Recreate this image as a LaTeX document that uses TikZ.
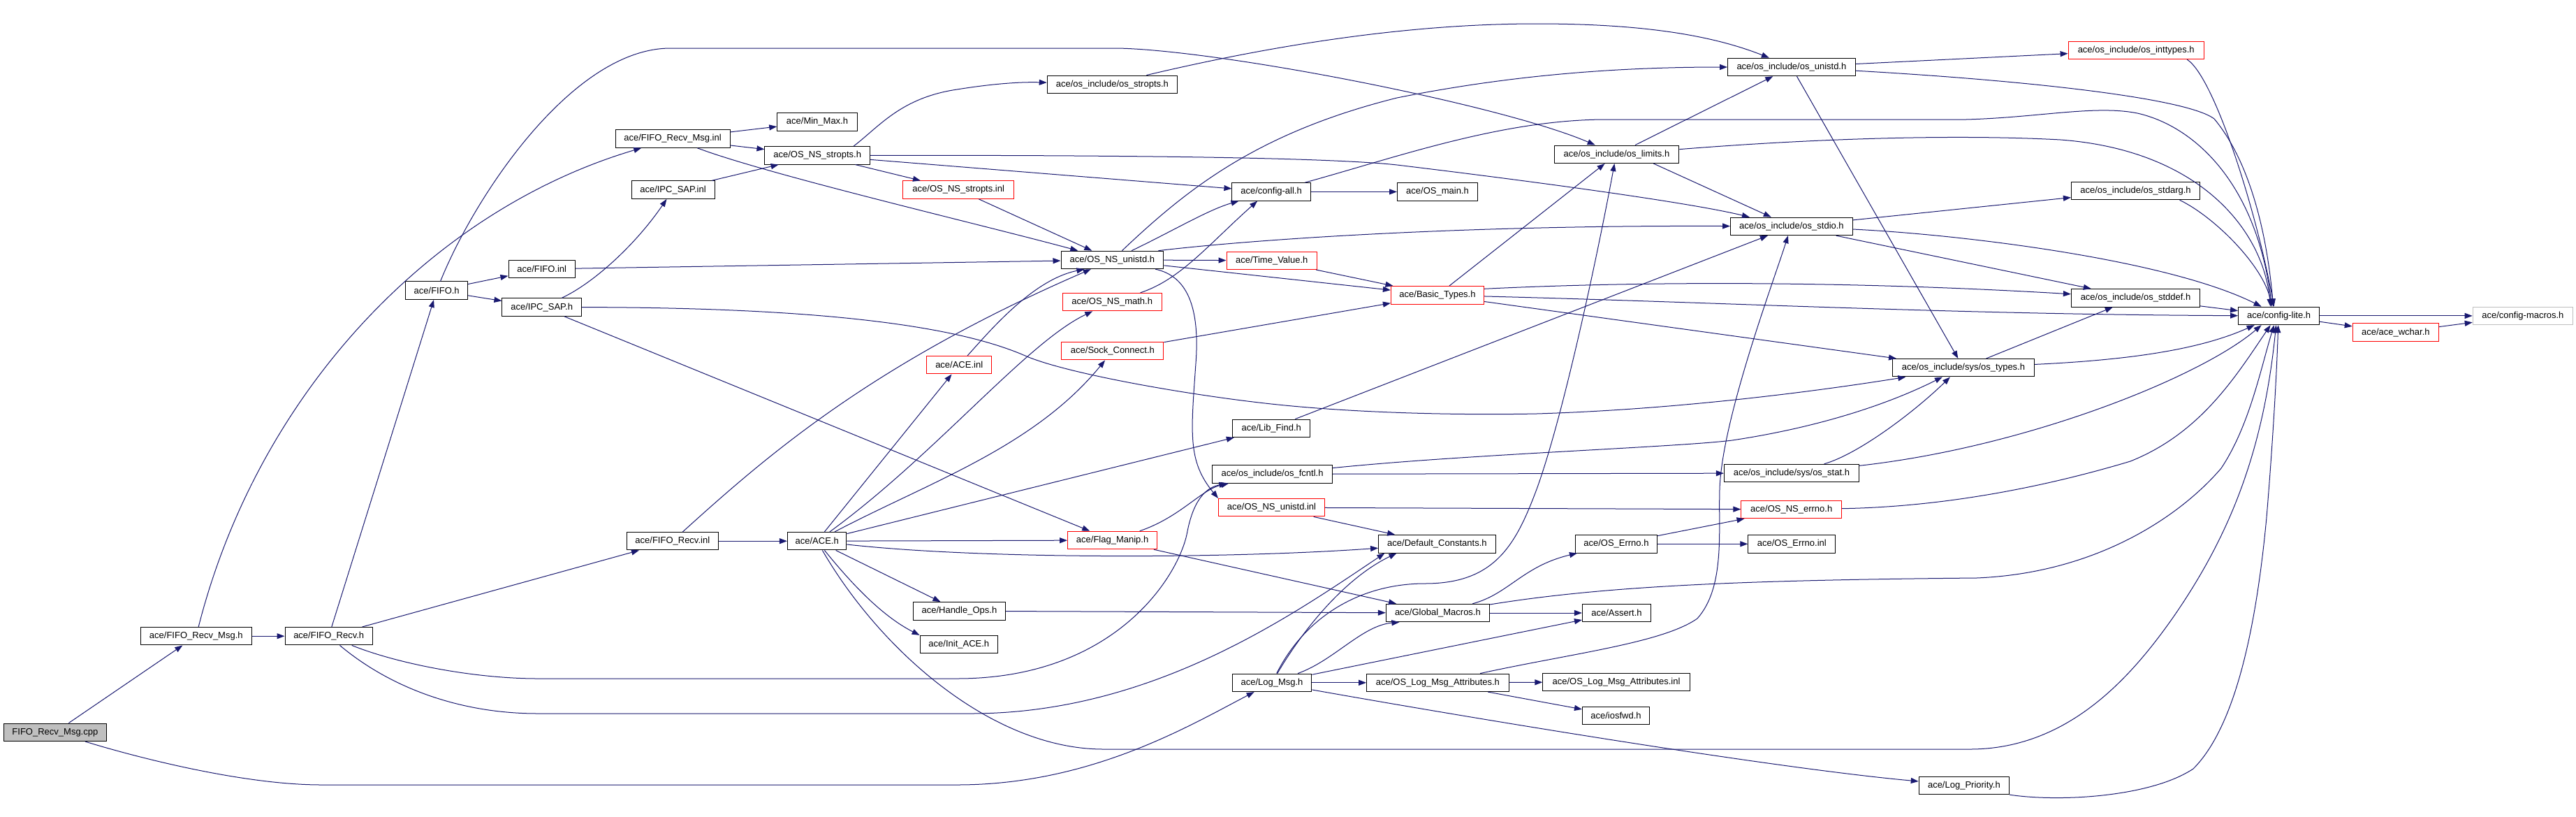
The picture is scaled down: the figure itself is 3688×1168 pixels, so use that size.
\documentclass[tikz,border=0pt]{standalone}
\usepackage{fontspec}
\setmainfont{Liberation Sans}
\usetikzlibrary{arrows.meta}
\definecolor{edgeblue}{HTML}{191970}
\definecolor{nodered}{HTML}{FF0000}
\definecolor{lightgr}{HTML}{BFBFBF}
\tikzset{
  nd/.style={draw=black, line width=1pt, rectangle, inner sep=0pt, minimum height=25.5pt, font=\fontsize{13}{15}\selectfont, text=black},
  rd/.style={nd, draw=nodered},
  gd/.style={nd, draw=lightgr},
  ed/.style={draw=edgeblue, line width=1pt, -{Triangle[length=11pt,width=8pt]}},
}
\begin{document}
\begin{tikzpicture}[x=1pt,y=-1pt]
\fill[white] (0,0) rectangle (3688,1168);
\useasboundingbox (0,0) rectangle (3688,1168);
% nodes
\node[nd, fill=lightgr, minimum width=146.7pt] (cpp) at (78.9,1047.8) {FIFO\_Recv\_Msg.cpp};
\node[nd, minimum width=158.9pt] (frmh) at (280.8,910.2) {ace/FIFO\_Recv\_Msg.h};
\node[nd, minimum width=125.4pt] (frh) at (470.7,910.2) {ace/FIFO\_Recv.h};
\node[nd, minimum width=88.8pt] (fifoh) at (625.2,415.7) {ace/FIFO.h};
\node[nd, minimum width=164pt] (frminl) at (963,198.5) {ace/FIFO\_Recv\_Msg.inl};
\node[nd, minimum width=114.5pt] (minmax) at (1170,174.4) {ace/Min\_Max.h};
\node[nd, minimum width=150.5pt] (nsstropts) at (1170.2,222.3) {ace/OS\_NS\_stropts.h};
\node[nd, minimum width=119pt] (ipcinl) at (963.5,271.6) {ace/IPC\_SAP.inl};
\node[nd, minimum width=95.4pt] (fifoinl) at (775.7,384.9) {ace/FIFO.inl};
\node[nd, minimum width=113.5pt] (ipch) at (775.7,439.6) {ace/IPC\_SAP.h};
\node[nd, minimum width=130.8pt] (frinl) at (962.8,774.2) {ace/FIFO\_Recv.inl};
\node[nd, minimum width=84.5pt] (aceh) at (1169.7,774.2) {ace/ACE.h};
\node[nd, minimum width=186.3pt] (osstropts) at (1592.4,120.8) {ace/os\_include/os\_stropts.h};
\node[rd, minimum width=158.5pt] (nsstroptsinl) at (1372.2,271.6) {ace/OS\_NS\_stropts.inl};
\node[nd, minimum width=112.4pt] (configall) at (1820.1,274.4) {ace/config-all.h};
\node[nd, minimum width=146.8pt] (nsunistd) at (1592.4,371.9) {ace/OS\_NS\_unistd.h};
\node[rd, minimum width=129.4pt] (timevalue) at (1820.7,372.8) {ace/Time\_Value.h};
\node[rd, minimum width=142.4pt] (nsmath) at (1592.2,432.1) {ace/OS\_NS\_math.h};
\node[rd, minimum width=145.9pt] (sockconnect) at (1592.9,502.2) {ace/Sock\_Connect.h};
\node[rd, minimum width=92.5pt] (aceinl) at (1373.2,522.2) {ace/ACE.inl};
\node[nd, minimum width=110.5pt] (libfind) at (1820.2,612.8) {ace/Lib\_Find.h};
\node[nd, minimum width=172.2pt] (osfcntl) at (1821.5,678.4) {ace/os\_include/os\_fcntl.h};
\node[rd, minimum width=152pt] (nsunistdinl) at (1820.5,726.2) {ace/OS\_NS\_unistd.inl};
\node[rd, minimum width=128.1pt] (flagmanip) at (1592.6,773) {ace/Flag\_Manip.h};
\node[nd, minimum width=132.4pt] (handleops) at (1373.4,874.3) {ace/Handle\_Ops.h};
\node[nd, minimum width=111.5pt] (initace) at (1372.8,922.1) {ace/Init\_ACE.h};
\node[nd, minimum width=113.7pt] (logmsg) at (1821,976.8) {ace/Log\_Msg.h};
\node[nd, minimum width=115pt] (osmain) at (2058,274.4) {ace/OS\_main.h};
\node[nd, minimum width=178.8pt] (oslimits) at (2314.4,220.8) {ace/os\_include/os\_limits.h};
\node[rd, minimum width=133.2pt] (basictypes) at (2058,422.3) {ace/Basic\_Types.h};
\node[nd, minimum width=167.6pt] (defconst) at (2057.4,778.3) {ace/Default\_Constants.h};
\node[nd, minimum width=117.5pt] (oserrno) at (2313.9,778.3) {ace/OS\_Errno.h};
\node[nd, minimum width=148.2pt] (globalmacros) at (2058.4,877) {ace/Global\_Macros.h};
\node[nd, minimum width=98.1pt] (assert) at (2314.5,877) {ace/Assert.h};
\node[nd, minimum width=203.6pt] (logattr) at (2058.4,976.8) {ace/OS\_Log\_Msg\_Attributes.h};
\node[nd, minimum width=210.3pt] (logattrinl) at (2314,975.8) {ace/OS\_Log\_Msg\_Attributes.inl};
\node[nd, minimum width=96.1pt] (iosfwd) at (2313.5,1023.8) {ace/iosfwd.h};
\node[nd, minimum width=182.7pt] (osunistd) at (2564.9,96) {ace/os\_include/os\_unistd.h};
\node[rd, minimum width=194.2pt] (osinttypes) at (3058.2,71.9) {ace/os\_include/os\_inttypes.h};
\node[nd, minimum width=184.2pt] (osstdarg) at (3057.5,273) {ace/os\_include/os\_stdarg.h};
\node[nd, minimum width=174.8pt] (osstdio) at (2564.9,323.9) {ace/os\_include/os\_stdio.h};
\node[nd, minimum width=184.2pt] (osstddef) at (3057.5,426.3) {ace/os\_include/os\_stddef.h};
\node[nd, minimum width=203.3pt] (ostypes) at (2810.9,526.2) {ace/os\_include/sys/os\_types.h};
\node[nd, minimum width=193pt] (osstat) at (2564.9,677) {ace/os\_include/sys/os\_stat.h};
\node[rd, minimum width=143.6pt] (nserrno) at (2564.7,728.9) {ace/OS\_NS\_errno.h};
\node[nd, minimum width=125pt] (errnoinl) at (2565.3,778.3) {ace/OS\_Errno.inl};
\node[nd, minimum width=129.3pt] (logpriority) at (2811.9,1123.9) {ace/Log\_Priority.h};
\node[nd, minimum width=116.2pt] (configlite) at (3262.6,451.9) {ace/config-lite.h};
\node[rd, minimum width=123.2pt] (acewchar) at (3429.8,475.7) {ace/ace\_wchar.h};
\node[gd, minimum width=143.4pt] (configmacros) at (3611.9,451.9) {ace/config-macros.h};
% edges
\draw[ed] (cpp) -- (frmh);
\draw[ed] (cpp) .. controls (200,1085) and (350,1123) .. (460,1123) -- (1370,1123) .. controls (1560,1123) and (1700,1040) .. (logmsg);
\draw[ed] (frmh) -- (frh);
\draw[ed] (frmh) .. controls (370,560) and (620,300) .. (frminl);
\draw[ed] (frh) -- (fifoh);
\draw[ed] (frh) -- (frinl);
\draw[ed] (frh) .. controls (570,950) and (680,971) .. (770,971) -- (1370,971) .. controls (1600,971) and (1690,820) .. (1700,760) .. controls (1710,710) and (1730,697) .. (osfcntl);
\draw[ed] (frh) .. controls (560,985) and (660,1021) .. (770,1021) -- (1390,1021) .. controls (1650,1021) and (1850,880) .. ([xshift=-75pt]defconst.south);
\draw[ed] (fifoh) -- (fifoinl);
\draw[ed] (fifoh) -- (ipch);
\draw[ed] (fifoh) .. controls (680,280) and (820,69) .. (960,69) -- (1600,69) .. controls (1750,72) and (2150,150) .. (oslimits);
\draw[ed] (frminl) -- (minmax);
\draw[ed] (frminl) -- (nsstropts);
\draw[ed] (frminl) .. controls (1100,250) and (1400,320) .. (nsunistd);
\draw[ed] (ipcinl) -- (nsstropts);
\draw[ed] (ipch) .. controls (850,405) and (910,350) .. (ipcinl);
\draw[ed] (ipch.east) .. controls (1200,440) and (1380,470) .. (1470,510) .. controls (1530,535) and (1700,565) .. (1820,578) .. controls (1950,592) and (2100,594) .. (2200,592) .. controls (2400,586) and (2600,560) .. (ostypes);
\draw[ed] (ipch) -- (flagmanip);
\draw[ed] (fifoinl) -- (nsunistd);
\draw[ed] (frinl) -- (aceh);
\draw[ed] (frinl) .. controls (1100,650) and (1250,520) .. (nsunistd);
\draw[ed] (aceh) -- (aceinl);
\draw[ed] (aceh) .. controls (1340,650) and (1470,490) .. (nsmath);
\draw[ed] (aceh) .. controls (1330,690) and (1480,640) .. (sockconnect);
\draw[ed] (aceh) -- (libfind);
\draw[ed] (aceh) -- (flagmanip);
\draw[ed] (aceh) .. controls (1400,800) and (1750,800) .. (defconst);
\draw[ed] (aceh) -- (handleops);
\draw[ed] (aceh) .. controls (1215,830) and (1260,880) .. (initace.north west);
\draw[ed] (aceh) .. controls (1260,930) and (1420,1072) .. (1580,1072) -- (2820,1072) .. controls (2960,1072) and (3050,970) .. (3110,885) .. controls (3190,770) and (3240,650) .. ([xshift=-4pt]configlite.south);
\draw[ed] (libfind) -- (osstdio);
\draw[ed] (flagmanip) .. controls (1690,740) and (1720,700) .. (osfcntl);
\draw[ed] (flagmanip) -- (globalmacros);
\draw[ed] (handleops) -- (globalmacros);
\draw[ed] (logmsg) -- (logattr);
\draw[ed] (logmsg) .. controls (1860,910) and (1920,830) .. ([xshift=-58pt]defconst.south);
\draw[ed] (logmsg) .. controls (1910,945) and (1950,895) .. ([xshift=-55pt]globalmacros.south);
\draw[ed] (logmsg) -- (assert);
\draw[ed] (logmsg) .. controls (1870,880) and (1950,835) .. (2040,835) .. controls (2140,835) and (2170,780) .. (2200,700) .. controls (2240,590) and (2290,350) .. ([xshift=-3pt]oslimits.south);
\draw[ed] (logmsg) .. controls (2150,1035) and (2550,1100) .. (logpriority);
\draw[ed] (logattr) -- (logattrinl);
\draw[ed] (logattr) -- (iosfwd);
\draw[ed] (logattr) .. controls (2250,935) and (2380,920) .. (2430,885) .. controls (2470,840) and (2460,760) .. (2462,700) .. controls (2465,600) and (2540,400) .. ([xshift=-5pt]osstdio.south);
\draw[ed] (globalmacros) -- (assert);
\draw[ed] (globalmacros) .. controls (2160,850) and (2180,810) .. (oserrno);
\draw[ed] (globalmacros) .. controls (2300,838) and (2500,830) .. (2830,827) .. controls (3000,820) and (3120,740) .. (3180,670) .. controls (3220,610) and (3236,530) .. ([xshift=-7pt]configlite.south);
\draw[ed] (oserrno) -- (nserrno);
\draw[ed] (oserrno) -- (errnoinl);
\draw[ed] (nsunistdinl) -- (defconst);
\draw[ed] (nsunistdinl) -- (nserrno);
\draw[ed] (osfcntl) -- (osstat);
\draw[ed] (osfcntl) .. controls (2100,650) and (2400,640) .. (2480,630) .. controls (2600,612) and (2700,580) .. ([xshift=-30pt]ostypes.south);
\draw[ed] (osstat) .. controls (2660,650) and (2740,590) .. ([xshift=-19pt]ostypes.south);
\draw[ed] (osstat) .. controls (2900,640) and (3150,540) .. ([xshift=-25pt]configlite.south);
\draw[ed] (osunistd) -- (osinttypes);
\draw[ed] (osunistd) -- (ostypes);
\draw[ed] (osunistd) .. controls (2900,115) and (3130,140) .. (3170,170) .. controls (3220,230) and (3245,330) .. ([xshift=-8pt]configlite.north);
\draw[ed] ([xshift=73pt]osinttypes.south) .. controls (3170,110) and (3230,300) .. ([xshift=-7pt]configlite.north);
\draw[ed] (configall) -- (osmain);
\draw[ed] (configall) .. controls (2000,225) and (2150,171) .. (2300,171) -- (2815,171) .. controls (2920,168) and (3000,150) .. (3060,162) .. controls (3140,180) and (3230,260) .. ([xshift=-10pt]configlite.north);
\draw[ed] (oslimits) -- (osunistd);
\draw[ed] ([xshift=53pt]oslimits.south) -- (osstdio);
\draw[ed] (oslimits) .. controls (2600,198) and (2800,192) .. (2950,200) .. controls (3150,215) and (3240,330) .. ([xshift=-12pt]configlite.north);
\draw[ed] (osstdio) -- (osstdarg);
\draw[ed] (osstdio) -- (osstddef);
\draw[ed] (osstdio) .. controls (2800,335) and (3100,370) .. ([xshift=-25pt]configlite.north);
\draw[ed] ([xshift=63pt]osstdarg.south) .. controls (3170,310) and (3240,380) .. ([xshift=-10pt]configlite.north);
\draw[ed] (osstddef) -- (configlite);
\draw[ed] (ostypes) -- (osstddef);
\draw[ed] (ostypes) .. controls (3050,515) and (3150,500) .. ([xshift=-35pt]configlite.south);
\draw[ed] (basictypes) -- (oslimits);
\draw[ed] ([yshift=9pt]basictypes.east) .. controls (2400,400) and (2700,405) .. (osstddef);
\draw[ed] (basictypes) .. controls (2450,432) and (2800,450) .. (configlite);
\draw[ed] (basictypes) -- (ostypes);
\draw[ed] (timevalue) -- (basictypes);
\draw[ed] (nsunistd) -- (timevalue);
\draw[ed] (nsunistd) .. controls (1680,330) and (1730,300) .. (configall);
\draw[ed] (nsunistd) .. controls (1700,270) and (1800,190) .. (2000,140) .. controls (2150,110) and (2300,96) .. (osunistd);
\draw[ed] ([xshift=66pt]nsunistd.north) .. controls (1800,342) and (2100,322) .. (osstdio);
\draw[ed] (nsunistd) -- (basictypes);
\draw[ed] (nsunistd) .. controls (1700,395) and (1718,440) .. (1712,520) .. controls (1705,620) and (1700,660) .. (nsunistdinl.north west);
\draw[ed] (nsmath) .. controls (1690,400) and (1730,350) .. ([xshift=-20pt]configall.south);
\draw[ed] (sockconnect) -- (basictypes);
\draw[ed] (aceinl) .. controls (1420,470) and (1480,400) .. ([xshift=-40pt]nsunistd.south);
\draw[ed] ([xshift=49pt]osstropts.north) .. controls (1800,70) and (2000,34) .. (2200,34) .. controls (2350,34) and (2450,50) .. ([xshift=-32pt]osunistd.north);
\draw[ed] ([xshift=52pt]nsstropts.north) .. controls (1260,180) and (1290,140) .. (1370,128) .. controls (1420,120) and (1460,117) .. (osstropts);
\draw[ed] (nsstropts) -- (configall);
\draw[ed] (nsstropts) -- (nsstroptsinl);
\draw[ed] (nsstropts.east) .. controls (1600,222) and (1900,225) .. (2000,236) .. controls (2200,260) and (2420,290) .. ([xshift=-60pt]osstdio.north);
\draw[ed] (nsstroptsinl) -- (nsunistd);
\draw[ed] (configlite) -- (configmacros);
\draw[ed] (configlite) -- (acewchar);
\draw[ed] (acewchar) -- (configmacros);
\draw[ed] (logpriority.south east) .. controls (2950,1148) and (3080,1140) .. (3140,1100) .. controls (3200,1040) and (3230,900) .. (3245,740) .. controls (3255,620) and (3260,520) .. ([xshift=-1pt]configlite.south);
\draw[ed] (nserrno) .. controls (2800,725) and (2950,690) .. (3050,660) .. controls (3150,620) and (3200,540) .. ([xshift=-12pt]configlite.south);
\end{tikzpicture}
\end{document}
